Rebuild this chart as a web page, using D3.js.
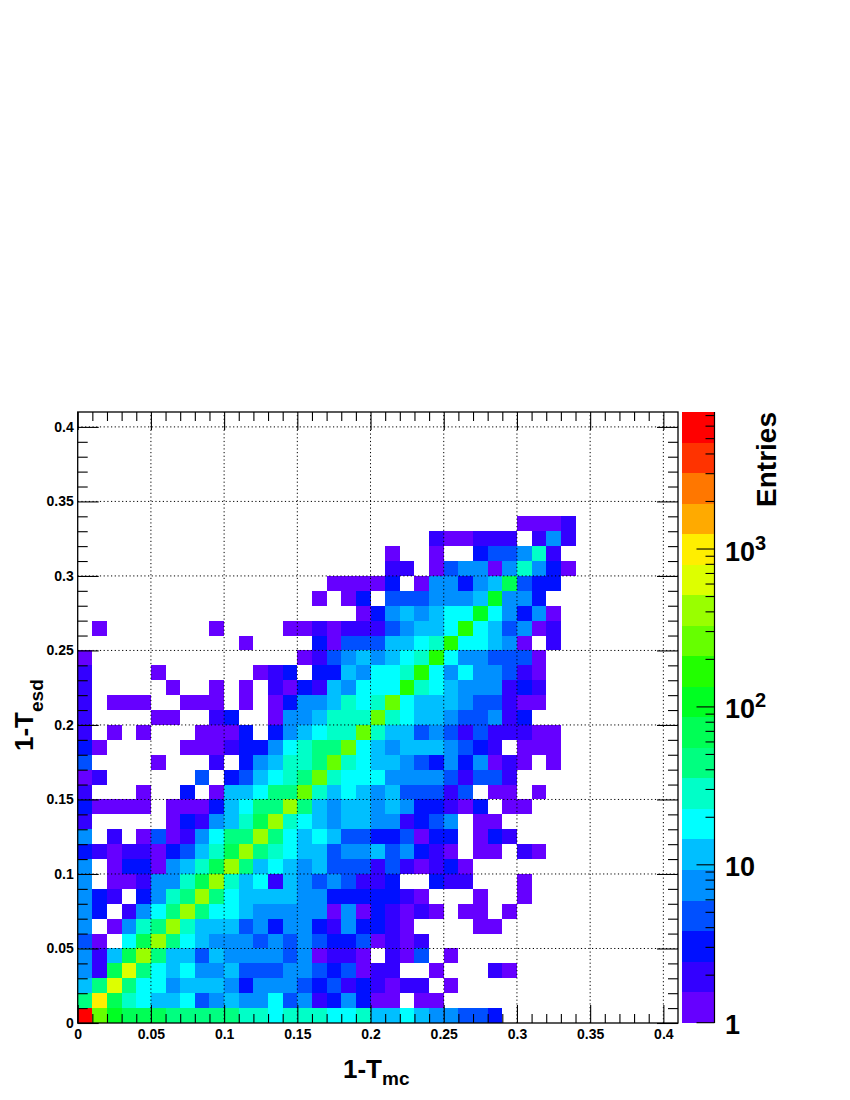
<!DOCTYPE html>
<html>
<head>
<meta charset="utf-8">
<script src="https://cdn.jsdelivr.net/npm/d3@7"></script>
<style>
html,body{margin:0;padding:0;background:#fff}
svg{display:block}
text{font-family:"Liberation Sans",Arial,sans-serif;font-weight:bold;fill:#000}
</style>
</head>
<body>
<div id="chart"></div>
<script>
// Estimated entries per bin (bin width 0.01), row = 1-T_esd bin, column = 1-T_mc bin; 0 = empty
const row00=[6000,260,108,70,70,70,45,45,45,45,45,28,28,18,28,28,28,18,18,28,12,12,18,12,7,7,5,5,3];
const row01=[45,1000,70,28,18,12,12,18,5,7,12,7,7,18,5,7,2,3,7,3,1,1,0,1,1];
const row02=[12,45,640,45,18,18,7,12,12,12,7,3,7,7,7,5,3,5,2,3,2,1,2,2,0,1];
const row03=[7,2,70,640,45,18,12,18,7,7,12,5,5,5,7,7,5,3,5,1,2,2,0,0,1,0,0,0,2,1];
const row04=[7,2,12,70,400,45,12,12,5,12,7,7,7,7,5,7,1,2,2,1,0,2,1,5,0,1];
const row05=[5,1,0,18,70,400,45,18,12,7,7,7,5,7,5,7,5,3,3,5,1,2,1,2];
const row06=[7,0,1,7,28,45,400,28,12,12,12,5,7,3,7,7,3,2,7,3,3,2,1,0,0,0,0,1,1];
const row07=[7,3,0,2,7,18,45,400,45,18,18,12,7,7,7,7,7,1,7,1,3,2,1,2,1,0,1,1,0,1];
const row08=[7,3,2,0,3,7,28,45,400,45,18,12,12,12,12,7,7,3,3,3,3,3,2,1,0,0,0,1,0,0,1];
const row09=[7,0,1,1,2,7,7,28,70,400,28,12,18,2,12,7,5,7,5,2,2,3,0,0,3,2,2,0,0,0,1];
const row10=[7,0,1,3,3,1,7,12,28,70,400,45,12,18,12,7,12,5,5,5,2,5,2,1,2,3,1];
const row11=[3,2,1,2,2,1,3,5,12,28,70,400,45,28,18,12,12,5,7,7,12,5,7,3,2,1,0,1,1,0,2,1];
const row12=[7,0,2,0,1,5,1,2,7,18,45,45,400,45,18,12,18,12,5,5,3,3,5,1,3,3,0,1,3,2];
const row13=[2,0,0,0,0,0,1,3,2,7,12,28,70,400,28,18,12,7,12,12,7,7,2,3,5,7,0,1,1];
const row14=[3,1,1,1,1,0,1,1,1,3,12,18,45,45,400,45,12,7,12,12,7,12,7,3,3,2,1,3,0,1,1];
const row15=[2,0,0,0,1,0,0,3,0,1,12,12,18,45,45,260,28,12,18,12,7,12,5,5,5,2,5,0,1,1,0,1];
const row16=[1,2,0,0,0,0,0,0,5,0,3,5,12,18,28,45,260,28,18,18,18,7,7,7,7,5,2,5,5,2];
const row17=[5,0,0,0,0,1,0,0,0,2,0,3,7,12,28,28,45,260,28,18,12,12,7,5,3,7,3,7,1,2,1,0,1];
const row18=[3,1,0,0,0,0,0,1,1,1,2,3,3,7,18,28,45,45,260,18,12,7,12,12,12,7,5,3,2,0,1,1,1];
const row19=[2,0,1,0,1,0,0,0,1,1,1,3,0,3,7,12,18,28,28,260,28,12,12,5,7,5,2,5,2,2,2,1,1];
const row20=[2,0,0,0,0,1,1,0,0,2,3,0,0,1,7,7,12,28,28,28,260,28,18,12,12,7,5,5,7,2,3];
const row21=[2,0,1,1,1,0,0,1,1,1,0,1,0,1,3,7,7,12,28,18,28,260,18,12,12,12,7,5,5,2,1,1];
const row22=[2,0,0,0,0,0,1,0,0,1,0,1,0,2,1,3,2,12,7,18,18,18,170,28,18,12,7,7,7,2,3,2];
const row23=[2,0,0,0,0,1,0,0,0,0,0,0,1,2,3,0,3,3,12,7,18,18,28,170,18,7,18,7,7,5,2,1];
const row24=[1,0,0,0,0,0,0,0,0,0,0,0,0,0,0,1,2,5,7,12,7,12,18,28,170,18,7,7,5,5,5,1];
const row25=[0,0,0,0,0,0,0,0,0,0,0,1,0,0,0,0,3,1,5,5,5,12,12,18,28,170,18,18,12,7,1,0,2];
const row26=[0,1,0,0,0,0,0,0,0,1,0,0,0,0,1,1,2,1,2,2,2,5,7,12,12,18,170,18,12,5,7,1,2];
const row27=[0,0,0,0,0,0,0,0,0,0,0,0,0,0,0,0,0,0,0,1,3,7,12,7,12,18,18,108,18,7,3,7,1];
const row28=[0,0,0,0,0,0,0,0,0,0,0,0,0,0,0,0,1,0,1,3,0,5,5,5,7,7,7,12,108,7,7,3];
const row29=[0,0,0,0,0,0,0,0,0,0,0,0,0,0,0,0,0,1,1,1,1,3,0,1,7,7,3,7,12,70,5,3,3];
const row30=[0,0,0,0,0,0,0,0,0,0,0,0,0,0,0,0,0,0,0,0,0,2,2,0,1,5,7,7,1,7,28,7,3,1];
const row31=[0,0,0,0,0,0,0,0,0,0,0,0,0,0,0,0,0,0,0,0,0,1,0,0,1,0,0,3,5,5,7,28,2];
const row32=[0,0,0,0,0,0,0,0,0,0,0,0,0,0,0,0,0,0,0,0,0,0,0,0,2,1,1,2,2,2,0,2,7,2];
const row33=[0,0,0,0,0,0,0,0,0,0,0,0,0,0,0,0,0,0,0,0,0,0,0,0,0,0,0,0,0,0,1,1,1,2];
const rows=[row00,row01,row02,row03,row04,row05,row06,row07,row08,row09,row10,row11,row12,row13,row14,row15,row16,row17,row18,row19,row20,row21,row22,row23,row24,row25,row26,row27,row28,row29,row30,row31,row32,row33];

const paletteColors=["#6600ff","#3300ff","#0010ff","#0050ff","#0090ff","#00bfff","#00ffff","#00ffc8","#00ff80","#00ff55","#00ff22","#22ff00","#66ff00","#99ff00","#ddff00","#ffee00","#ffaa00","#ff7700","#ff3300","#ff0000"];
const majorTicks=[0,0.05,0.1,0.15,0.2,0.25,0.3,0.35,0.4];
const minorTicks=[0.01,0.02,0.03,0.04,0.06,0.07,0.08,0.09,0.11,0.12,0.13,0.14,0.16,0.17,0.18,0.19,0.21,0.22,0.23,0.24,0.26,0.27,0.28,0.29,0.31,0.32,0.33,0.34,0.36,0.37,0.38,0.39];
const zMajor=[1,10,100,1000];
const zMinor=[2,3,4,5,6,7,8,9,20,30,40,50,60,70,80,90,200,300,400,500,600,700,800,900,2000,3000,4000,5000,6000,7000];
const axisMax=0.41, binWidth=0.01, zMax=7375;
const xTitle="1-T", xSub="mc", yTitle="1-T", ySub="esd", zTitle="Entries";

const svg=d3.select("#chart").append("svg").attr("width",850).attr("height",1100);
const L=77.7,R=678,B=1023,T=412;
const x=d3.scaleLinear().domain([0,axisMax]).range([L,R]);
const y=d3.scaleLinear().domain([0,axisMax]).range([B,T]);
const z=d3.scaleLog().domain([1,zMax]).range([1022.7,412]);
const color=d3.scaleQuantize().domain([0,Math.log10(zMax)]).range(paletteColors);

// cells
const cells=rows.flatMap((r,j)=>r.map((v,i)=>({i,j,v})).filter(d=>d.v>0));
svg.append("g").attr("shape-rendering","crispEdges").selectAll("rect").data(cells).join("rect")
  .attr("x",d=>x(d.i*binWidth))
  .attr("y",d=>y((d.j+1)*binWidth))
  .attr("width",d=>x((d.i+1)*binWidth)-x(d.i*binWidth))
  .attr("height",d=>y(d.j*binWidth)-y((d.j+1)*binWidth))
  .attr("fill",d=>color(Math.log10(d.v)));

// grid
const grid=svg.append("g").attr("stroke","#000").attr("stroke-width",1).attr("stroke-dasharray","1.2,2.5");
grid.selectAll("line.v").data(majorTicks.slice(1)).join("line").attr("class","v")
  .attr("x1",d=>x(d)).attr("x2",d=>x(d)).attr("y1",B).attr("y2",T);
grid.selectAll("line.h").data(majorTicks.slice(1)).join("line").attr("class","h")
  .attr("y1",d=>y(d)).attr("y2",d=>y(d)).attr("x1",L).attr("x2",R);

function style(g){g.select(".domain").remove();g.selectAll("line").attr("stroke","#000").attr("stroke-width",1.1);g.selectAll("text").attr("font-size",14).attr("fill","#000");}
const fmt=d=>String(d);
// x axes
svg.append("g").attr("transform",`translate(0,${B})`).call(d3.axisBottom(x).tickValues(minorTicks).tickSize(-9).tickFormat("")).call(style);
svg.append("g").attr("transform",`translate(0,${B})`).call(d3.axisBottom(x).tickValues(majorTicks).tickSizeInner(-18).tickSizeOuter(0).tickPadding(6).tickFormat(fmt)).call(style);
svg.append("g").attr("transform",`translate(0,${T})`).call(d3.axisTop(x).tickValues(minorTicks).tickSize(-9).tickFormat("")).call(style);
svg.append("g").attr("transform",`translate(0,${T})`).call(d3.axisTop(x).tickValues(majorTicks).tickSize(-18).tickFormat("")).call(style);
// y axes
svg.append("g").attr("transform",`translate(${L},0)`).call(d3.axisLeft(y).tickValues(minorTicks).tickSize(-10).tickFormat("")).call(style);
svg.append("g").attr("transform",`translate(${L},0)`).call(d3.axisLeft(y).tickValues(majorTicks).tickSizeInner(-21).tickSizeOuter(0).tickPadding(4).tickFormat(fmt)).call(style);
svg.append("g").attr("transform",`translate(${R},0)`).call(d3.axisRight(y).tickValues(minorTicks).tickSize(-10).tickFormat("")).call(style);
svg.append("g").attr("transform",`translate(${R},0)`).call(d3.axisRight(y).tickValues(majorTicks).tickSize(-21).tickFormat("")).call(style);
// frame
svg.append("rect").attr("x",L).attr("y",T).attr("width",R-L).attr("height",B-T).attr("fill","none").attr("stroke","#000").attr("stroke-width",1.3);

// palette
const cbL=682,cbR=714.5;
const span=Math.log10(zMax)/paletteColors.length;
svg.append("g").attr("shape-rendering","crispEdges").selectAll("rect").data(paletteColors).join("rect")
  .attr("x",cbL).attr("width",cbR-cbL)
  .attr("y",(d,i)=>z(Math.pow(10,(i+1)*span)))
  .attr("height",(d,i)=>z(Math.pow(10,i*span))-z(Math.pow(10,(i+1)*span)))
  .attr("fill",d=>d);
const zg=svg.append("g");
zg.append("line").attr("x1",cbR).attr("x2",cbR).attr("y1",412).attr("y2",1023).attr("stroke","#000").attr("stroke-width",1.2);
zg.selectAll("line.mi").data(zMinor).join("line").attr("class","mi").attr("x1",cbR-9).attr("x2",cbR).attr("y1",d=>z(d)).attr("y2",d=>z(d)).attr("stroke","#000").attr("stroke-width",1.1);
zg.selectAll("line.ma").data(zMajor).join("line").attr("class","ma").attr("x1",cbR-18).attr("x2",cbR).attr("y1",d=>z(d)).attr("y2",d=>z(d)).attr("stroke","#000").attr("stroke-width",1.1);
zMajor.forEach(v=>{
  const e=Math.round(Math.log10(v));
  zg.append("text").attr("x",725).attr("y",z(v)+11.5).attr("font-size",27).text(v===1?"1":"10");
  if(e>1) zg.append("text").attr("x",755).attr("y",z(v)+0.5).attr("font-size",20).text(e);
});

// titles
const tx=svg.append("text").attr("x",343).attr("y",1078).attr("font-size",26);
tx.append("tspan").text(xTitle);
tx.append("tspan").attr("font-size",19).attr("dy",7).text(xSub);
const ty=svg.append("text").attr("transform","translate(33.3,751) rotate(-90)").attr("font-size",26);
ty.append("tspan").text(yTitle);
ty.append("tspan").attr("font-size",19).attr("dy",9.5).text(ySub);
svg.append("text").attr("transform","translate(776,412) rotate(-90)").attr("text-anchor","end").attr("font-size",28).text(zTitle);
</script>
</body>
</html>
